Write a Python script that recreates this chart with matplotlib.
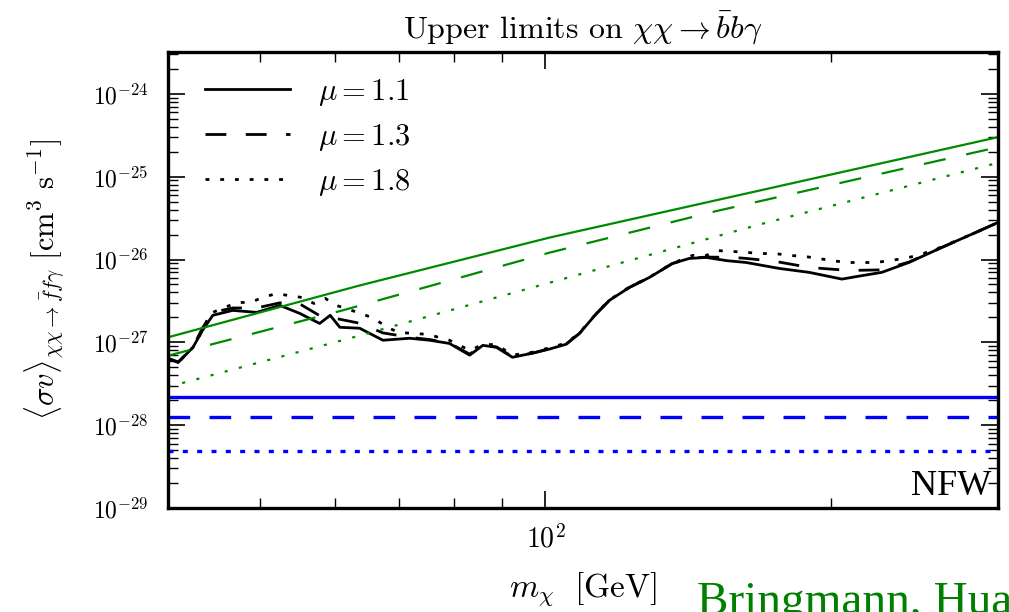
import numpy as np
import matplotlib
matplotlib.use("Agg")
import matplotlib.pyplot as plt
from matplotlib.ticker import LogLocator, NullFormatter, FixedLocator, FixedFormatter

plt.rcParams['font.family'] = 'serif'
plt.rcParams['font.serif'] = ['cmr10', 'DejaVu Serif']
plt.rcParams['mathtext.fontset'] = 'cm'
plt.rcParams['axes.unicode_minus'] = False
plt.rcParams['axes.formatter.use_mathtext'] = True

# --- limits on <sigma v> (cm^3/s) vs m_chi (GeV) ---
m_solid = [40.0, 41.0, 42.5, 43.5, 44.6, 46.8, 49.6, 52.5, 55.1, 57.8, 59.3, 60.7,
           63.7, 67.4, 71.9, 75.5, 79.2, 83.2, 85.9, 88.8, 92.3, 96.9, 101.0, 105.2,
           108.6, 113.2, 116.8, 122.6, 128.7, 136.1, 141.8, 147.7, 155.1, 162.8,
           172.2, 176.4, 189.6, 205.4, 214.1, 226.3, 241.6, 261.8, 284.2, 300.0]
sv_solid = [6.4e-28, 5.7e-28, 8.7e-28, 1.40e-27, 2.12e-27, 2.43e-27, 2.30e-27, 2.79e-27,
            2.23e-27, 1.69e-27, 2.12e-27, 1.52e-27, 1.48e-27, 1.06e-27, 1.12e-27,
            1.06e-27, 9.7e-28, 7.0e-28, 9.2e-28, 8.7e-28, 6.6e-28, 7.4e-28, 8.3e-28,
            9.5e-28, 1.28e-27, 2.23e-27, 3.21e-27, 4.60e-27, 6.07e-27, 8.95e-27,
            1.03e-26, 1.06e-26, 9.7e-27, 9.2e-27, 8.2e-27, 7.8e-27, 7.0e-27, 5.8e-27,
            6.3e-27, 7.0e-27, 9.2e-27, 1.40e-26, 2.12e-26, 2.8e-26]

m_dash = [40.0, 41.0, 42.5, 43.5, 44.6, 46.8, 49.6, 52.5, 55.1, 57.8, 60.7, 63.7,
          67.4, 71.9, 75.5, 79.2, 83.2, 85.9, 88.8, 92.3, 96.9, 101.0, 105.2, 108.6,
          113.2, 116.8, 122.6, 128.7, 136.1, 141.8, 147.7, 157.8, 162.8, 174.6, 190.0,
          205.0, 213.0, 226.3, 241.6, 261.8, 284.2, 300.0]
sv_dash = [6.4e-28, 5.8e-28, 8.7e-28, 1.5e-27, 2.3e-27, 2.6e-27, 2.6e-27, 3.0e-27,
           2.9e-27, 2.1e-27, 1.9e-27, 1.7e-27, 1.3e-27, 1.15e-27, 1.08e-27, 9.8e-28,
           7.2e-28, 9.2e-28, 8.8e-28, 6.7e-28, 7.4e-28, 8.4e-28, 9.6e-28, 1.28e-27,
           2.23e-27, 3.21e-27, 4.60e-27, 6.07e-27, 8.95e-27, 1.03e-26, 1.07e-26,
           1.06e-26, 1.03e-26, 9.5e-27, 8.0e-27, 7.5e-27, 7.4e-27, 7.5e-27, 9.3e-27,
           1.40e-26, 2.12e-26, 2.8e-26]

m_dot = [40.0, 41.0, 42.5, 43.5, 44.3, 47.3, 48.9, 50.3, 52.1, 53.5, 55.4, 57.0,
         58.6, 60.2, 63.9, 65.9, 68.1, 70.0, 72.6, 75.1, 79.2, 83.2, 85.9, 88.8,
         92.3, 96.9, 101.0, 105.2, 108.6, 113.2, 116.8, 122.6, 128.7, 136.1, 142.9,
         147.7, 152.1, 157.8, 162.8, 168.7, 174.6, 180.8, 187.5, 193.9, 200.4, 208.0,
         215.6, 223.0, 230.7, 238.6, 247.1, 261.8, 284.2, 300.0]
sv_dot = [6.4e-28, 5.7e-28, 8.7e-28, 1.4e-27, 2.23e-27, 3.03e-27, 3.03e-27, 3.48e-27,
          3.89e-27, 3.68e-27, 3.48e-27, 2.95e-27, 3.39e-27, 2.79e-27, 2.23e-27,
          1.95e-27, 1.52e-27, 1.32e-27, 1.28e-27, 1.25e-27, 1.06e-27, 8.0e-28,
          9.4e-28, 9.4e-28, 7.0e-28, 7.6e-28, 8.6e-28, 9.8e-28, 1.30e-27, 2.25e-27,
          3.25e-27, 4.65e-27, 6.1e-27, 9.0e-27, 1.12e-26, 1.12e-26, 1.28e-26,
          1.25e-26, 1.22e-26, 1.18e-26, 1.18e-26, 1.12e-26, 1.09e-26, 1.03e-26,
          9.7e-27, 9.2e-27, 9.2e-27, 9.2e-27, 9.7e-27, 1.03e-26, 1.12e-26, 1.42e-26,
          2.12e-26, 2.8e-26]

# green power-law-like curves
m_green = [40.0, 63.7, 101.0, 300.0]
sv_green_11 = [1.15e-27, 4.86e-27, 1.84e-26, 3.0e-25]
m_green_13 = [40.0, 61.1, 101.0, 150.6, 300.0]
sv_green_13 = [6.9e-28, 2.43e-27, 1.21e-26, 3.79e-26, 2.27e-25]
m_green_18 = [40.0, 62.2, 98.6, 168.0, 300.0]
sv_green_18 = [2.9e-28, 1.12e-27, 4.86e-27, 2.64e-26, 1.47e-25]

# blue horizontal levels
blue_levels = [2.19e-28, 1.26e-28, 4.90e-29]

labels = [r'$\mu=1.1$', r'$\mu=1.3$', r'$\mu=1.8$']

fig = plt.figure(figsize=(10.09, 6.12), dpi=100)
ax = fig.add_axes([168/1009, 1-508/612, 830/1009, 456/612])

ax.plot(m_solid, sv_solid, color='black', lw=2.0, label=labels[0])
ax.plot(m_dash, sv_dash, color='black', lw=2.0, dashes=(7.5, 7), label=labels[1])
ax.plot(m_dot, sv_dot, color='black', lw=2.0, dashes=(1.4, 3.9), label=labels[2])

green = '#008a00'
ax.plot(m_green, sv_green_11, color=green, lw=1.6)
ax.plot(m_green_13, sv_green_13, color=green, lw=1.6, dashes=(10, 9.5))
ax.plot(m_green_18, sv_green_18, color=green, lw=1.6, dashes=(1.4, 5.2))

xr = [40, 300]
ax.plot(xr, [blue_levels[0]] * 2, color='blue', lw=2.4)
ax.plot(xr, [blue_levels[1]] * 2, color='blue', lw=2.4, dashes=(6.5, 5.8))
ax.plot(xr, [blue_levels[2]] * 2, color='blue', lw=2.4, dashes=(1.5, 2.8))

ax.set_xscale('log')
ax.set_yscale('log')
ax.set_xlim(40, 300)
ax.set_ylim(1e-29, 3.2e-24)

ax.xaxis.set_major_locator(FixedLocator([100]))
ax.xaxis.set_major_formatter(FixedFormatter([r'$10^{2}$']))
ax.xaxis.set_minor_locator(FixedLocator([50, 60, 70, 80, 90, 200]))
ax.xaxis.set_minor_formatter(NullFormatter())

yt = [1e-29, 1e-28, 1e-27, 1e-26, 1e-25, 1e-24]
ax.yaxis.set_major_locator(FixedLocator(yt))
ax.yaxis.set_major_formatter(FixedFormatter([r'$10^{-%d}$' % k for k in [29, 28, 27, 26, 25, 24]]))
ax.yaxis.set_minor_locator(LogLocator(base=10, subs=np.arange(2, 10), numticks=20))
ax.yaxis.set_minor_formatter(NullFormatter())

ax.tick_params(which='both', direction='in', top=True, right=True, labelsize=17)
ax.tick_params(axis='x', labelsize=20)
ax.tick_params(which='major', length=12, width=1.2)
ax.tick_params(which='minor', length=7, width=1.0)
ax.tick_params(axis='y', which='major', pad=14)
ax.tick_params(axis='x', which='major', pad=12)
for s in ax.spines.values():
    s.set_linewidth(2.4)

ax.set_title(r'Upper limits on $\chi\chi\rightarrow\bar{b}b\gamma$', fontsize=23, pad=10)
ax.set_xlabel(r'$m_\chi\ \ [\mathrm{GeV}]$', fontsize=24, labelpad=12)
ax.set_ylabel(r'$\langle\sigma v\rangle_{\chi\chi\rightarrow\bar{f}f\gamma}\ [\mathrm{cm}^3\ \mathrm{s}^{-1}]$',
              fontsize=22)
ax.yaxis.set_label_coords(-0.122, 0.5)

leg = ax.legend(loc='upper left', bbox_to_anchor=(0.044, 0.945), frameon=False,
                fontsize=22, handlelength=2.8, handletextpad=0.9, labelspacing=0.45,
                borderaxespad=0, borderpad=0)

ax.text(0.992, 0.012, 'NFW', transform=ax.transAxes, ha='right', va='bottom',
        fontsize=26, family='Liberation Serif')

fig.text(697/1009, 1-614/612, 'Bringmann, Huang, Ibarra, Vogl, Weniger', color='green',
         fontsize=34, family='Liberation Serif', ha='left', va='baseline')

fig.savefig('out.png', dpi=100)
